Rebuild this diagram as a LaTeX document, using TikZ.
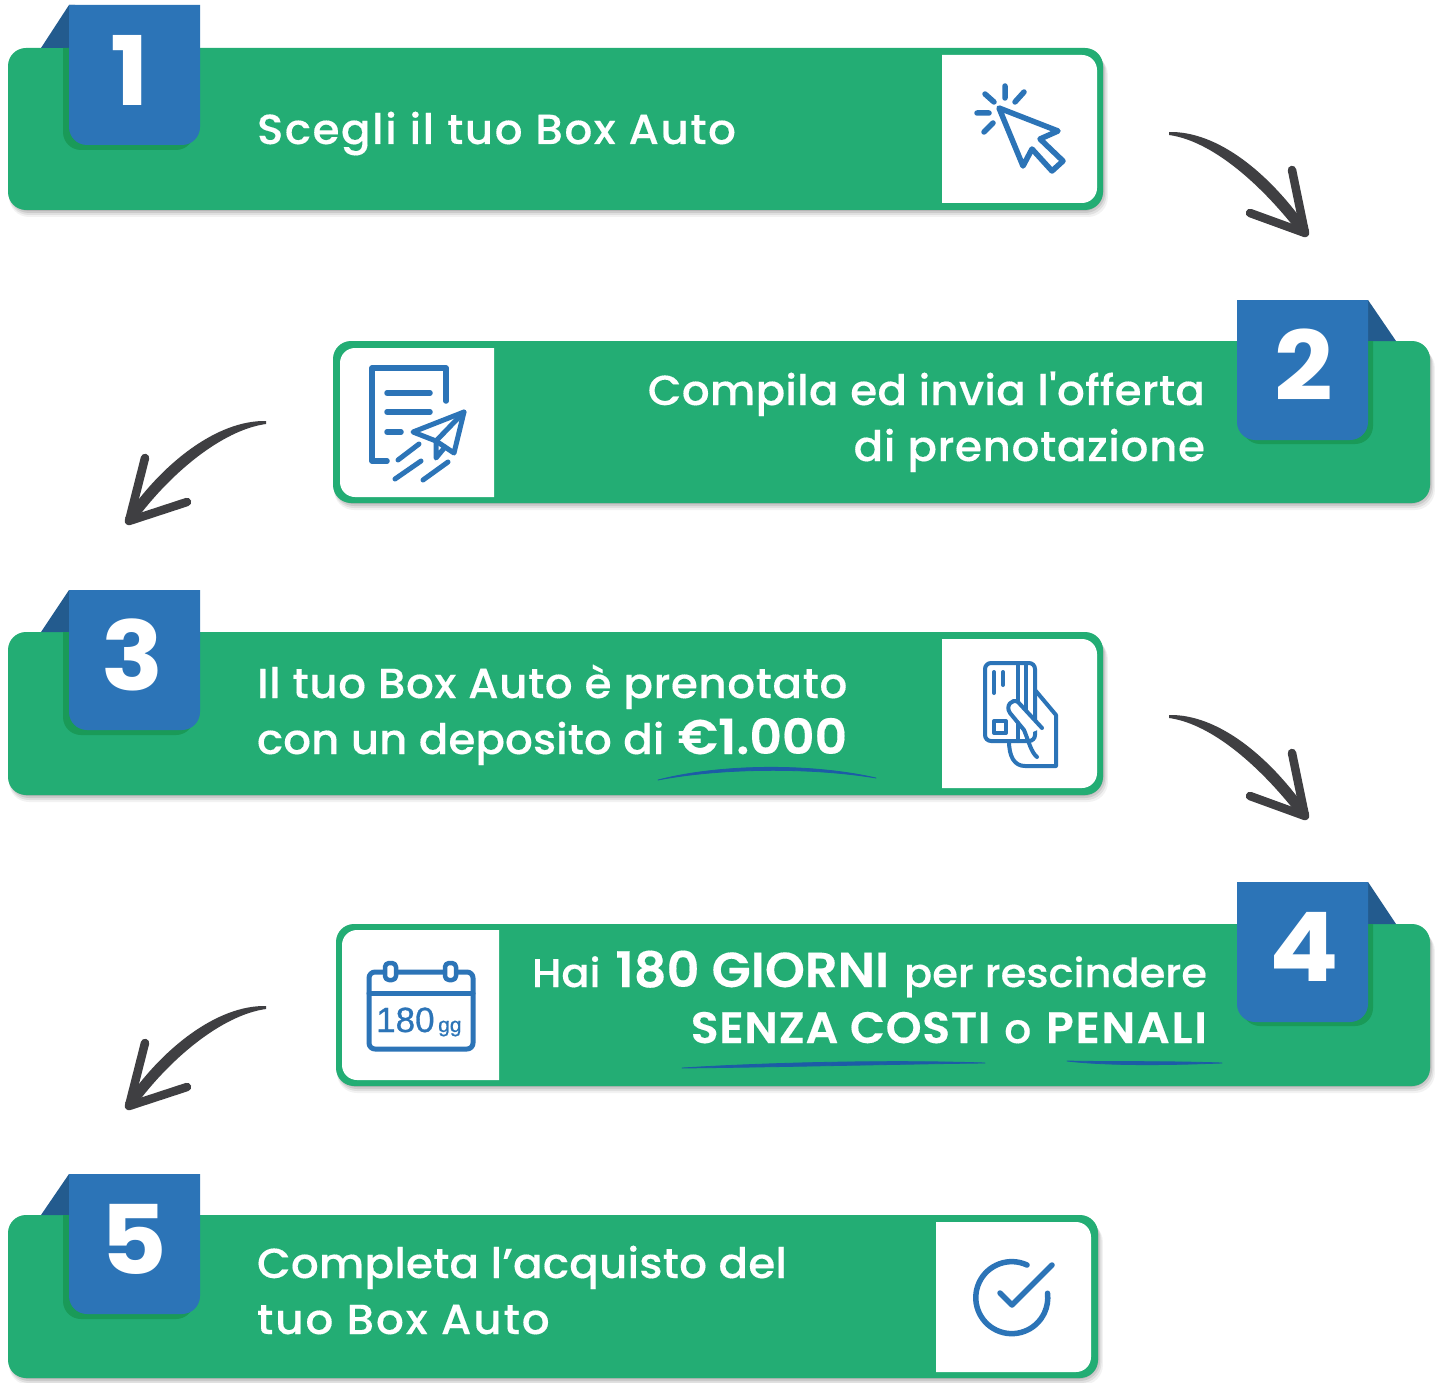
\documentclass[tikz,border=0pt]{standalone}
\usepackage{fontspec}
\newfontfamily\txtfont[BoldFont={Poppins SemiBold},LetterSpace=1.5,FakeStretch=1.04,FakeBold=0.3]{Poppins Medium}
\newfontfamily\numfont[FakeStretch=1.07]{Poppins Bold}
\newfontfamily\calfont[FakeBold=0.8]{Liberation Sans}
\newcommand\spaced[1]{\addfontfeature{LetterSpace=#1}}
\definecolor{cardgreen}{HTML}{23AD74}
\definecolor{darkgreen}{HTML}{1A9A58}
\definecolor{badgeblue}{HTML}{2C74B7}
\definecolor{folddark}{HTML}{235B8E}
\definecolor{arrowgrey}{HTML}{3F3F42}
\definecolor{inkblue}{HTML}{1C5CA6}
\tikzset{
  label text/.style={text=white,font=\txtfont\fontsize{42}{42}\selectfont,inner sep=0pt,outer sep=0pt},
  digit text/.style={text=white,font=\numfont\fontsize{96}{96}\selectfont,inner sep=0pt,outer sep=0pt},
  icon line/.style={draw=badgeblue,line width=5.5pt,line cap=round,line join=round},
  arrow stroke/.style={draw=arrowgrey,line width=8.5pt,line cap=round,line join=round},
  ink line/.style={fill=inkblue,draw=inkblue,line width=.8pt,line cap=round,line join=round},
}
% card: x1 y1 x2 y2
\newcommand\cardbody[4]{%
  \foreach \d/\o in {7/.05,5/.07,3/.09,1/.10}{
    \fill[black,opacity=\o,rounded corners=20pt] ({#1+1},{#2+\d}) rectangle ({#3+\d*.7},{#4+\d});
  }
  \fill[cardgreen,rounded corners=18pt] (#1,#2) rectangle (#3,#4);
}
% panels: x1 y1 x2 y2
\newcommand\panelright[4]{\fill[white] (#1,#2) -- ({#3-15},#2) arc[start angle=-90,end angle=0,radius=15] -- ({#3},{#4-15}) arc[start angle=0,end angle=90,radius=15] -- (#1,#4) -- cycle;}
\newcommand\panelleft[4]{\fill[white] (#3,#2) -- ({#1+15},#2) arc[start angle=-90,end angle=-180,radius=15] -- (#1,{#4-15}) arc[start angle=180,end angle=90,radius=15] -- (#3,#4) -- cycle;}
% badges: top, shadow bottom, card top
\newcommand\badgeL[3]{%
  \fill[folddark] (41,#3) -- (69,#1) -- (75,#1) -- (75,#3) -- cycle;
  \fill[darkgreen] (63,#3) -- ({63+131},#3) -- ({63+131},{#2-18}) arc[start angle=0,end angle=90,radius=18] -- ({63+18},#2) arc[start angle=90,end angle=180,radius=18] -- cycle;
  \fill[badgeblue] (69,#1) -- (200,#1) -- (200,{#1+140-18}) arc[start angle=0,end angle=90,radius=18] -- (87,{#1+140}) arc[start angle=90,end angle=180,radius=18] -- cycle;
}
\newcommand\badgeR[3]{%
  \fill[folddark] (1396,#3) -- (1368,#1) -- (1360,#1) -- (1360,#3) -- cycle;
  \fill[darkgreen] (1373,#3) -- (1242,#3) -- (1242,{#2-18}) arc[start angle=180,end angle=90,radius=18] -- (1355,#2) arc[start angle=90,end angle=0,radius=18] -- cycle;
  \fill[badgeblue] (1237,#1) -- (1368,#1) -- (1368,{#1+140-18}) arc[start angle=0,end angle=90,radius=18] -- (1255,{#1+140}) arc[start angle=90,end angle=180,radius=18] -- cycle;
}
\begin{document}
\begin{tikzpicture}[x=1pt,y=-1pt]
\useasboundingbox (0,0) rectangle (1440,1383);
\fill[white] (0,0) rectangle (1440,1383);

% Step 1
\cardbody{8}{48}{1103}{210}
\panelright{942}{55}{1097}{203}
\badgeL{5}{150}{48}
\node[digit text] (d1) at (130,70) {1};
\node[label text,anchor=base west] (t1) at (257,144) {\spaced{3.6}Scegli il tuo Box Auto};
% cursor icon
\draw[icon line] (999,108) -- (1058,131) -- (1040,139) -- (1063,161) -- (1052,171) -- (1032,149) -- (1023,166) -- cycle;
\draw[icon line] (1005,86) -- (1005,98) (985,94) -- (994,102) (1024,92) -- (1015,102) (977,113) -- (989,113) (993,123) -- (984,132);

% Step 2
\cardbody{333}{341}{1430}{503}
\panelleft{340}{348}{494}{497}
\badgeR{300}{444}{341}
\node[digit text] (d2) at (1304,365) {2};
\node[label text,anchor=base east] (t2a) at (1205,405) {\spaced{0.6}Compila ed invia l'offerta};
\node[label text,anchor=base east] (t2b) at (1205,461) {di prenotazione};
% document and plane icon
\draw[icon line] (446,401) -- (446,368) -- (372,368) -- (372,461) -- (387,461);
\draw[icon line] (387,393) -- (430,393) (387,412) -- (430,412) (387,432) -- (401,432);
\draw[icon line,line width=5pt] (464,412) -- (413,432) -- (436,441) -- (454,453) -- cycle;
\draw[icon line,line width=5pt] (464,412) -- (436,441) -- (436,458) -- (445,447);
\draw[icon line,line width=5pt] (419,444) -- (398,460) (421,461) -- (395,479) (448,462) -- (423,480);

% Step 3
\cardbody{8}{632}{1103}{795}
\panelright{942}{639}{1097}{788}
\badgeL{590}{735}{632}
\node[digit text] (d3) at (133,655) {3};
\node[label text,anchor=base west] (t3a) at (257,698) {\spaced{1.3}Il tuo Box Auto è prenotato};
\node[label text,anchor=base west] (t3b) at (257,754) {\spaced{0}con un deposito di\hspace{2pt} \fontsize{48.5}{48.5}\selectfont\bfseries €1.000};
\path[ink line] (658,780) .. controls (720,764) and (810,763) .. (876,778) .. controls (810,767) and (720,768) .. (658,780) -- cycle;
% card and hand icon
\draw[icon line,line width=4pt] (1035,690) -- (1056,715) -- (1056,766) -- (1025,766) .. controls (1014,766) and (1009,756) .. (1009,741);
\draw[icon line,line width=4pt,rounded corners=6pt] (985,663) rectangle (1035,741);
\draw[icon line,line width=4pt] (1018,664) -- (1018,702) (1026,664) -- (1026,712);
\draw[icon line,line width=4pt] (994,672) -- (994,693) (1003,672) -- (1003,685);
\draw[icon line,line width=4pt] (994,721) rectangle (1006,733);
\fill[white] (1042,728) -- (1018,702) .. controls (1012,698) and (1005,706) .. (1010,713) -- (1028,734) -- cycle;
\draw[icon line,line width=4pt] (1042,728) -- (1018,702) .. controls (1012,698) and (1005,706) .. (1010,713) -- (1024,730) .. controls (1029,742) and (1031,752) .. (1037,757);
\draw[icon line,line width=4pt] (1018,723) -- (1018,741);

% Step 4
\cardbody{336}{924}{1430}{1086}
\panelleft{342}{930}{499}{1080}
\badgeR{882}{1026}{924}
\node[digit text] (d4) at (1304,947) {4};
\node[label text,anchor=base east] (t4a) at (1207,987) {\fontsize{40}{40}\selectfont\spaced{0}Hai\hspace{4pt} {\fontsize{49}{49}\selectfont\bfseries 180 GIORNI}\hspace{4pt} per rescindere};
\node[label text,anchor=base east] (t4b) at (1207,1043) {\fontsize{44}{44}\selectfont\bfseries SENZA COSTI\hspace{2pt} {\fontsize{41}{41}\selectfont\mdseries o}\hspace{3pt} {\spaced{4}PENALI}};
\path[ink line] (682,1068) .. controls (780,1062) and (900,1060) .. (985,1063) .. controls (900,1064) and (780,1067) .. (682,1068) -- cycle;
\path[ink line] (1067,1061) .. controls (1110,1062) and (1170,1061) .. (1222,1063) .. controls (1170,1065) and (1110,1066) .. (1067,1061) -- cycle;
% calendar icon
\draw[icon line,line width=5pt,rounded corners=6pt] (369,972) rectangle (473,1049);
\draw[icon line,line width=5pt] (369,993) -- (473,993);
\draw[icon line,fill=white,line width=4.5pt,rounded corners=4pt] (385,963) rectangle (396,980);
\draw[icon line,fill=white,line width=4.5pt,rounded corners=4pt] (445,963) rectangle (456,980);
\node[text=badgeblue,font=\calfont\fontsize{35}{35}\selectfont,anchor=base west,inner sep=0pt] (c180) at (376,1032) {180};
\node[text=badgeblue,font=\calfont\fontsize{21}{21}\selectfont,anchor=base west,inner sep=0pt] (cgg) at (438,1032) {gg};

% Step 5
\cardbody{8}{1215}{1098}{1378}
\panelright{936}{1222}{1091}{1372}
\badgeL{1174}{1319}{1215}
\node[digit text] (d5) at (134,1239) {5};
\node[label text,anchor=base west] (t5a) at (257,1278) {\spaced{0.4}Completa l’acquisto del};
\node[label text,anchor=base west] (t5b) at (257,1334) {\spaced{4.6}tuo Box Auto};
% check icon
\draw[icon line] (1027,1265) arc[start angle=-65,end angle=-367,radius=36];
\draw[icon line] (1000,1293) -- (1012,1305) -- (1052,1265);

% Arrows
\coordinate (a1s) at (1169,132); \coordinate (a1e) at (1305,233);
\coordinate (a2s) at (266,421);  \coordinate (a2e) at (129,521);
\coordinate (a3s) at (1169,715); \coordinate (a3e) at (1305,816);
\coordinate (a4s) at (266,1006); \coordinate (a4e) at (129,1106);
\newcommand\rightarrowshape[2]{%
  \fill[arrowgrey] (#1) .. controls +(48,-1) and +(-40,-58) .. ([shift={(4,-3)}]#2) -- ([shift={(-4,3)}]#2) .. controls +(-38,-50) and +(44,6) .. ([shift={(0,3)}]#1) -- cycle;
  \draw[arrow stroke] ([shift={(-13,-63)}]#2) -- (#2) -- ([shift={(-55,-20)}]#2);
}
\newcommand\leftarrowshape[2]{%
  \fill[arrowgrey] (#1) .. controls +(-48,-1) and +(38,-56) .. ([shift={(-4,-3)}]#2) -- ([shift={(4,3)}]#2) .. controls +(36,-50) and +(-44,6) .. ([shift={(0,3)}]#1) -- cycle;
  \draw[arrow stroke] ([shift={(16,-63)}]#2) -- (#2) -- ([shift={(58,-19)}]#2);
}
\rightarrowshape{a1s}{a1e}
\leftarrowshape{a2s}{a2e}
\rightarrowshape{a3s}{a3e}
\leftarrowshape{a4s}{a4e}
\end{tikzpicture}
\end{document}
